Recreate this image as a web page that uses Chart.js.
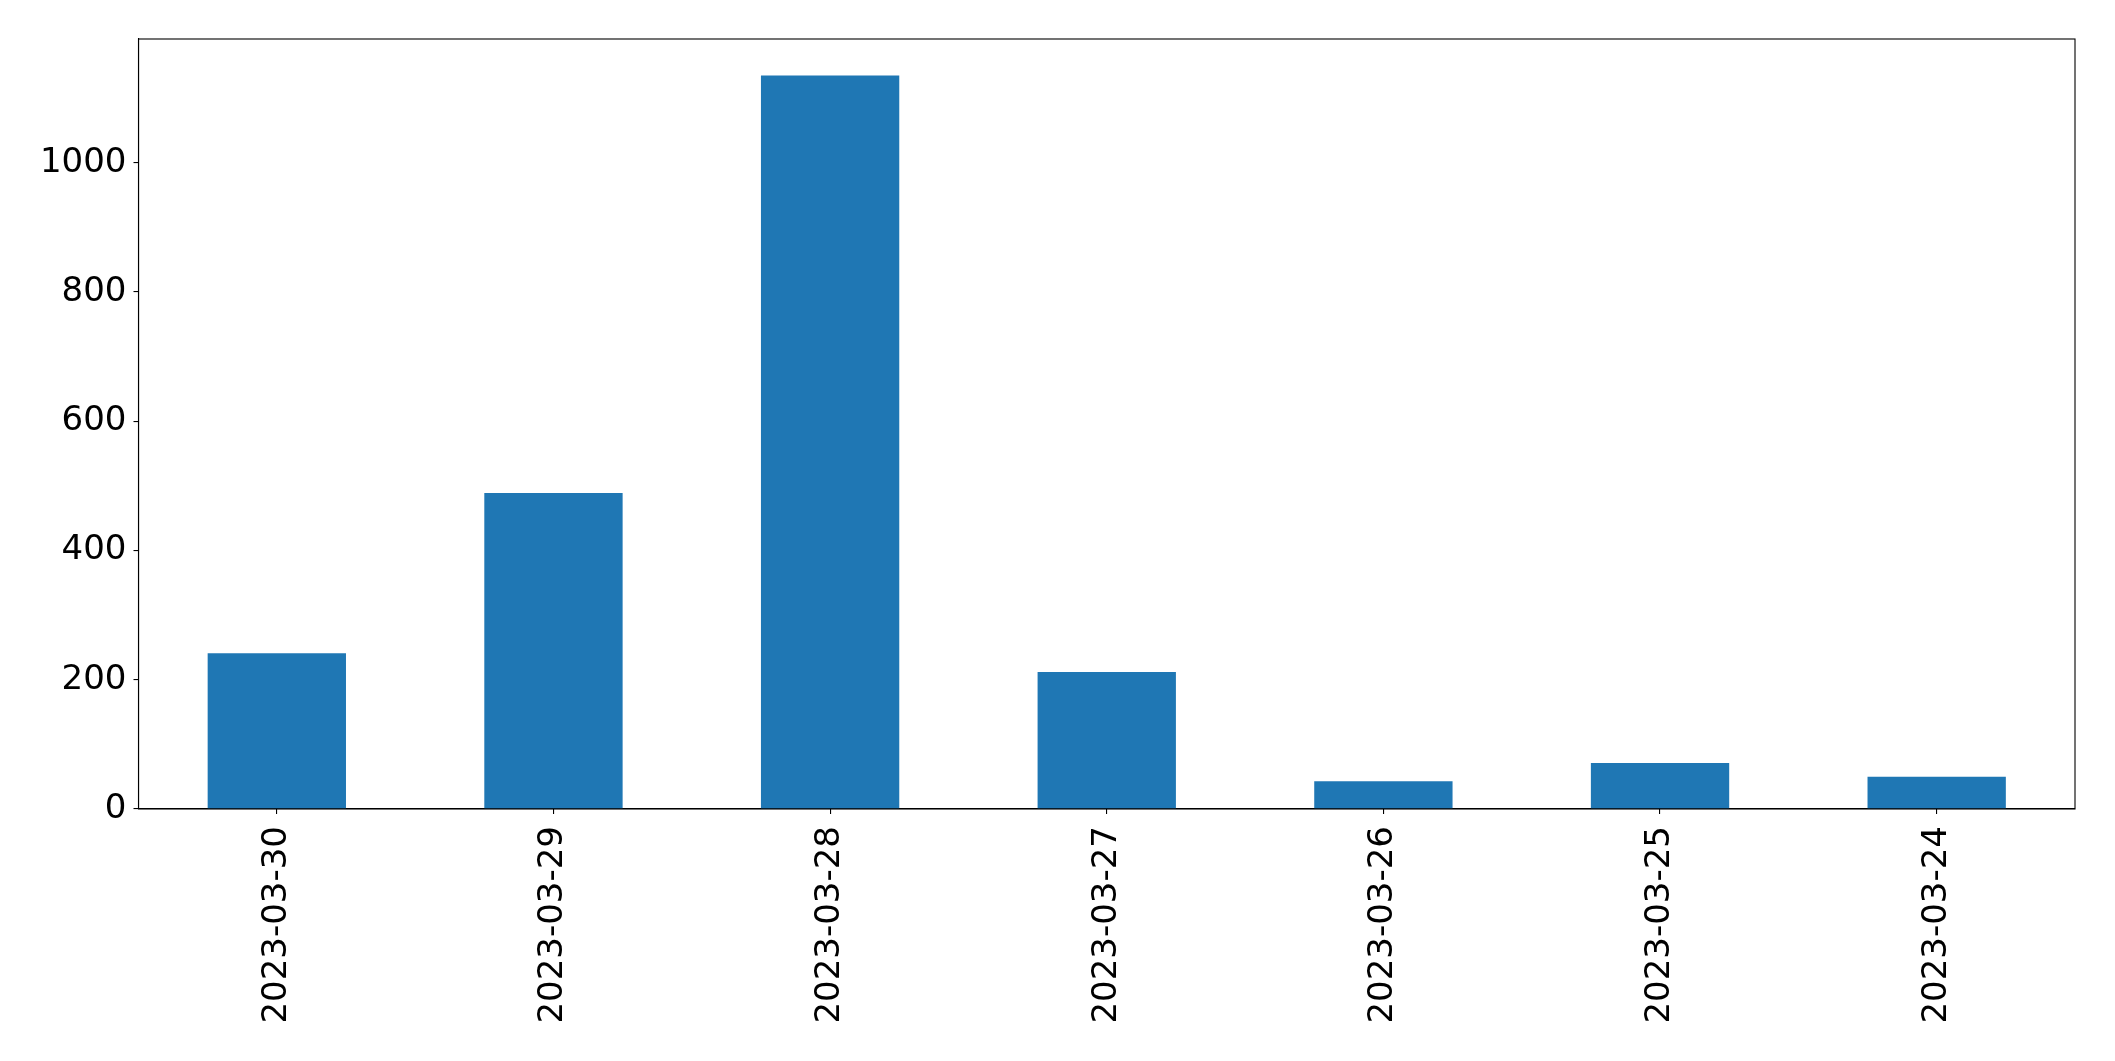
<!DOCTYPE html>
<html>
<head>
<meta charset="utf-8">
<script src="https://cdn.jsdelivr.net/npm/chart.js@4"></script>
<style>
  html, body { margin: 0; padding: 0; background: #fff; }
  #wrap { width: 2115px; height: 1061px; }
</style>
</head>
<body>
<div id="wrap"><canvas id="c" width="2115" height="1061"></canvas></div>
<script>
const categories = ["2023-03-30", "2023-03-29", "2023-03-28", "2023-03-27", "2023-03-26", "2023-03-25", "2023-03-24"];
const values = [241, 489, 1135, 212, 43, 71, 50];
const yTicks = [0, 200, 400, 600, 800, 1000];
const yMax = 1191.5;

const framePlugin = {
  id: 'frame',
  afterDraw(chart) {
    const a = chart.chartArea, ctx = chart.ctx;
    ctx.save();
    ctx.strokeStyle = '#000';
    ctx.lineWidth = 1.1;
    ctx.strokeRect(a.left, a.top, a.right - a.left, a.bottom - a.top);
    ctx.restore();
  }
};

new Chart(document.getElementById('c'), {
  type: 'bar',
  data: {
    labels: categories,
    datasets: [{
      data: values,
      backgroundColor: '#1f77b4',
      borderWidth: 0,
      categoryPercentage: 1.0,
      barPercentage: 0.5
    }]
  },
  options: {
    responsive: false,
    animation: false,
    devicePixelRatio: 1,
    layout: { padding: { left: 0, right: 40, top: 39, bottom: 0 } },
    plugins: { legend: { display: false }, tooltip: { enabled: false } },
    scales: {
      x: {
        offset: true,
        grid: { display: true, offset: false, drawOnChartArea: false, drawTicks: true, tickLength: 5, color: '#000', lineWidth: 1.1 },
        border: { display: true, color: '#000', width: 1.1 },
        ticks: {
          color: '#000',
          font: { family: 'DejaVu Sans', size: 34 },
          maxRotation: 90, minRotation: 90,
          padding: 12,
          autoSkip: false
        },
        afterFit(s) { s.height = 252; }
      },
      y: {
        min: 0,
        max: yMax,
        grid: { display: true, drawOnChartArea: false, drawTicks: true, tickLength: 5, color: '#000', lineWidth: 1.1 },
        border: { display: true, color: '#000', width: 1.1 },
        ticks: {
          color: '#000',
          font: { family: 'DejaVu Sans', size: 34 },
          padding: 7,
          callback: v => String(v)
        },
        afterBuildTicks(s) { s.ticks = yTicks.map(v => ({ value: v })); },
        afterFit(s) { s.width = 138.5; }
      }
    }
  },
  plugins: [framePlugin]
});
</script>
</body>
</html>
